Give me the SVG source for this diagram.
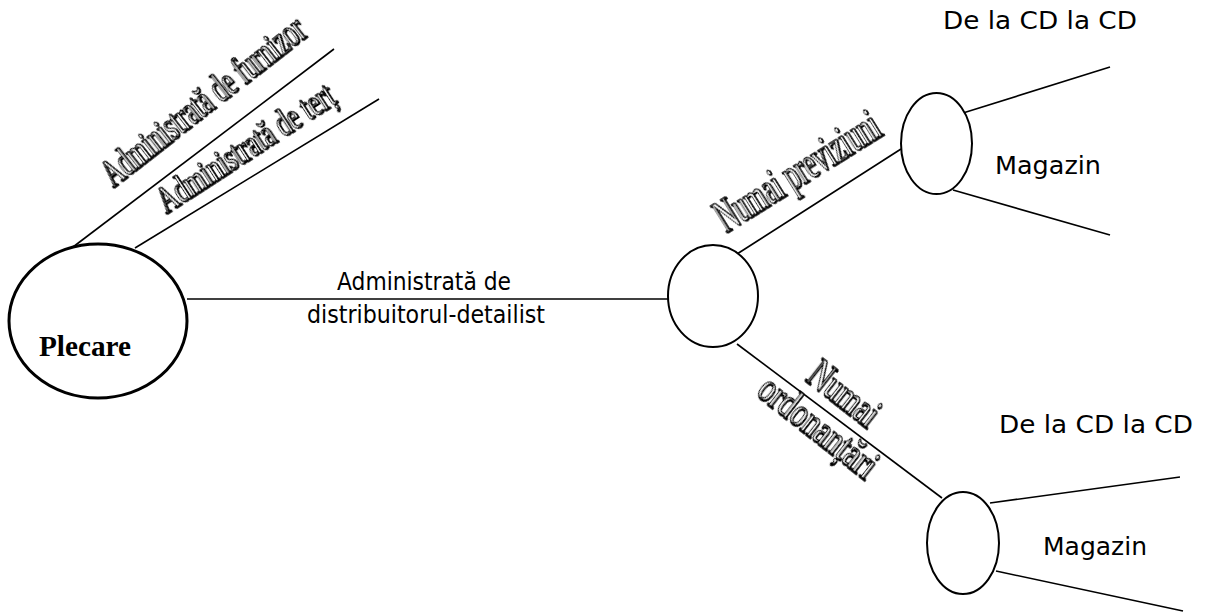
<svg xmlns="http://www.w3.org/2000/svg" width="1205" height="614" viewBox="0 0 1205 614">
  <defs>
    <filter id="shadow" x="-20%" y="-50%" width="140%" height="200%">
      <feDropShadow dx="1" dy="1" stdDeviation="0" flood-color="#000" flood-opacity="1"/>
    </filter>
  </defs>
  <style>
    .node { fill: #fff; stroke: #000; stroke-width: 2; }
    .start { fill: #fff; stroke: #000; stroke-width: 3; }
    .edge { stroke: #000; stroke-width: 1.6; fill: none; }
    .lbl { font-family: "DejaVu Sans", Verdana, sans-serif; font-size: 24px; fill: #000; }
    .art { font-family: "Liberation Serif", "Times New Roman", serif; fill: #fff; stroke: #000; stroke-width: 1.3; filter: url(#shadow); }
    .bold { font-family: "Liberation Serif", "Times New Roman", serif; font-weight: bold; font-size: 29px; fill: #000; }
  </style>
  <rect width="1205" height="614" fill="#fff"/>

  <g id="connectors">
    <line class="edge" x1="73" y1="247" x2="334" y2="49"/>
    <line class="edge" x1="135" y1="248" x2="379" y2="99"/>
    <line class="edge" x1="187" y1="299" x2="668" y2="299"/>
    <line class="edge" x1="737" y1="254" x2="901" y2="149"/>
    <line class="edge" x1="737" y1="344" x2="942" y2="498"/>
    <line class="edge" x1="963" y1="113" x2="1110" y2="67"/>
    <line class="edge" x1="953" y1="190" x2="1110" y2="235"/>
    <line class="edge" x1="990" y1="503" x2="1180" y2="477"/>
    <line class="edge" x1="996" y1="571" x2="1183" y2="611"/>
  </g>

  <g id="edge-labels">
    <text class="art" font-size="41" textLength="248" lengthAdjust="spacingAndGlyphs" transform="translate(113,188) rotate(-38)">Administrată de furnizor</text>
    <text class="art" font-size="38" textLength="205" lengthAdjust="spacingAndGlyphs" transform="translate(166,214) rotate(-33)">Administrată de terț</text>
    <text class="lbl" x="424" y="290" text-anchor="middle" textLength="174" lengthAdjust="spacingAndGlyphs">Administrată de</text>
    <text class="lbl" x="426" y="323" text-anchor="middle" textLength="238" lengthAdjust="spacingAndGlyphs">distribuitorul-detailist</text>
    <text class="art" font-size="46" textLength="186" lengthAdjust="spacingAndGlyphs" transform="translate(726,233) rotate(-32)">Numai previziuni</text>
    <g transform="translate(836,404) rotate(38)">
      <text class="art" font-size="42" x="0" y="0" text-anchor="middle" textLength="80" lengthAdjust="spacingAndGlyphs">Numai</text>
      <text class="art" font-size="42" x="0" y="42" text-anchor="middle" textLength="140" lengthAdjust="spacingAndGlyphs">ordonanțări</text>
    </g>
    <text class="lbl" x="943" y="29" textLength="194" lengthAdjust="spacingAndGlyphs">De la CD la CD</text>
    <text class="lbl" x="995" y="174" textLength="106" lengthAdjust="spacingAndGlyphs">Magazin</text>
    <text class="lbl" x="999" y="433" textLength="194" lengthAdjust="spacingAndGlyphs">De la CD la CD</text>
    <text class="lbl" x="1043" y="555" textLength="104" lengthAdjust="spacingAndGlyphs">Magazin</text>
  </g>

  <g id="plecare">
    <ellipse class="start" cx="98" cy="321" rx="89" ry="77"/>
    <text class="bold" x="39" y="356" textLength="92" lengthAdjust="spacingAndGlyphs">Plecare</text>
  </g>
  <g id="nod-distribuitor">
    <ellipse class="node" cx="713" cy="296" rx="45" ry="51"/>
  </g>
  <g id="nod-previziuni">
    <ellipse class="node" cx="936.5" cy="143.5" rx="35.5" ry="50.5"/>
  </g>
  <g id="nod-ordonantari">
    <ellipse class="node" cx="963" cy="543" rx="36" ry="51"/>
  </g>
</svg>
